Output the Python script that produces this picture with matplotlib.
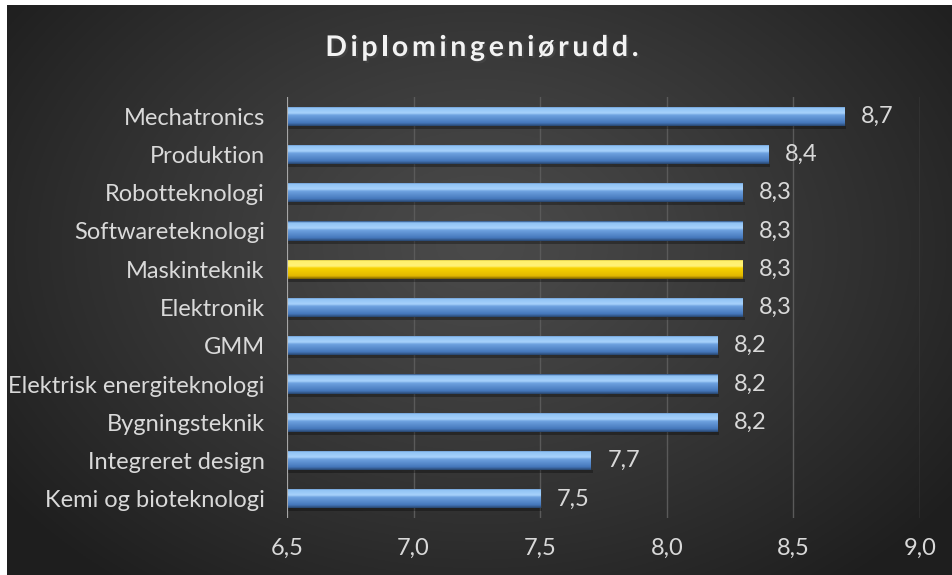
import numpy as np
import matplotlib
matplotlib.use("Agg")
import matplotlib.pyplot as plt
from matplotlib.colors import LinearSegmentedColormap
import matplotlib.patheffects as pe

categories = ["Mechatronics", "Produktion", "Robotteknologi", "Softwareteknologi",
              "Maskinteknik", "Elektronik", "GMM", "Elektrisk energiteknologi",
              "Bygningsteknik", "Integreret design", "Kemi og bioteknologi"]
values = [8.7, 8.4, 8.3, 8.3, 8.3, 8.3, 8.2, 8.2, 8.2, 7.7, 7.5]
highlight = "Maskinteknik"
title = "Diplomingeniørudd."
xticks = [6.5, 7.0, 7.5, 8.0, 8.5, 9.0]
xlim = (6.5, 9.0)

FONT = ["Lato", "DejaVu Sans"]
plt.rcParams['font.family'] = FONT
FS = 17

fig = plt.figure(figsize=(9.52, 5.75), dpi=100)
fig.patch.set_facecolor("white")

# background with radial gradient
bg = fig.add_axes([7/952, 0, 1 - 7/952, 1 - 5/575])
bg.set_axis_off()
h, w = 300, 500
yy, xx = np.mgrid[0:h, 0:w]
cx, cy = w * 0.5, h * 0.42
r = np.sqrt(((xx - cx) / (w * 0.62)) ** 2 + ((yy - cy) / (h * 0.75)) ** 2)
r = np.clip(r, 0, 1)
c_in, c_out = 0.29, 0.12
img = c_in + (c_out - c_in) * r ** 1.2
bg.imshow(np.dstack([img, img, img]), aspect="auto", extent=[0, 1, 0, 1])
bg.set_xlim(0, 1); bg.set_ylim(0, 1)

# main axes: x 287..920 px, y 97..518 px
left, right = 287 / 952, 920 / 952
top, bottom = 97 / 575, 518 / 575
ax = fig.add_axes([left, 1 - bottom, right - left, bottom - top])
ax.patch.set_alpha(0)

y = np.arange(len(categories))
bars = ax.barh(y, [v - xlim[0] for v in values], left=xlim[0], height=0.5,
               color="none", edgecolor="none", zorder=3)

blue = LinearSegmentedColormap.from_list("b", [
    (0.0, "#2c4f80"), (0.08, "#8fc2f5"), (0.35, "#a8d2fb"),
    (0.45, "#6ea2e0"), (0.85, "#4577bb"), (1.0, "#28466f")])
yellow = LinearSegmentedColormap.from_list("y", [
    (0.0, "#8a6e00"), (0.08, "#fff06a"), (0.35, "#fff27a"),
    (0.45, "#f7d300"), (0.85, "#e2b800"), (1.0, "#7a6000")])
grad = np.linspace(0, 1, 64).reshape(-1, 1)

for cat, b, v in zip(categories, bars, values):
    x0, w_ = b.get_x(), b.get_width()
    y0, hh = b.get_y(), b.get_height()
    cmap = yellow if cat == highlight else blue
    sh = plt.Rectangle((x0, y0 + hh), w_ + 0.008, 0.08, color="black",
                       alpha=0.3, zorder=2, linewidth=0)
    ax.add_patch(sh)
    im = ax.imshow(grad, cmap=cmap, aspect="auto",
                   extent=[x0, x0 + w_, y0 + hh, y0], zorder=3,
                   interpolation="bilinear")
    im.set_clip_path(b)
    ax.text(v + 0.065, b.get_y() + hh / 2, f"{v:.1f}".replace(".", ","),
            va="center", ha="left", color="#d9d9d9", fontsize=FS, zorder=5)

ax.set_xlim(*xlim)
ax.set_ylim(len(categories) - 0.5, -0.5)
ax.set_xticks(xticks)
ax.set_xticklabels([f"{t:.1f}".replace(".", ",") for t in xticks])
ax.set_yticks(y)
ax.set_yticklabels(categories)
ax.tick_params(axis="both", length=0, colors="#d9d9d9", labelsize=FS)
ax.tick_params(axis="y", pad=16)
ax.tick_params(axis="x", pad=14)
for s in ax.spines.values():
    s.set_visible(False)
ax.grid(axis="x", color="#5a5a5a", linewidth=1, zorder=0)
ax.axvline(xlim[0], color="#a6a6a6", linewidth=1.5, zorder=4)
ax.set_aspect("auto")

# title with letter spacing
fig.canvas.draw()
renderer = fig.canvas.get_renderer()
tfs = 20.5
spacing = 3.6  # px
widths = []
for ch in title:
    t = fig.text(0, 0, ch, fontsize=tfs, fontweight="bold")
    widths.append(t.get_window_extent(renderer).width)
    t.remove()
total = sum(widths) + spacing * (len(title) - 1)
x = 952 / 2 + 6 - total / 2
ty = 575 - 48
for ch, wd in zip(title, widths):
    fig.text(x / 952, ty / 575, ch, ha="left", va="center", color="#f2f2f2",
             fontsize=tfs, fontweight="bold",
             path_effects=[pe.withSimplePatchShadow(offset=(1.5, -1.5), alpha=0.6)])
    x += wd + spacing

fig.savefig("out.png", dpi=100, facecolor=fig.get_facecolor())
